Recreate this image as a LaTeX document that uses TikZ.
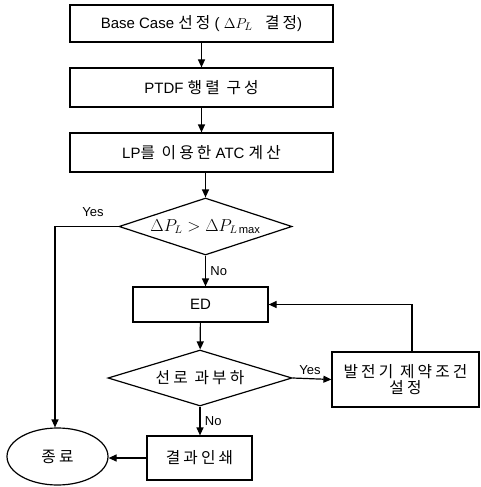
\documentclass[tikz,border=0pt]{standalone}
\usepackage{fontspec}
\setmainfont{Liberation Sans}
\newfontfamily\kr[LetterSpace=20,Scale=1.05]{Noto Sans CJK KR}
\usetikzlibrary{arrows.meta,shapes.geometric}
\begin{document}
\begin{tikzpicture}[x=1pt,y=-1pt,
  line width=1.2pt,
  every node/.style={font=\fontsize{15}{17}\selectfont},
  proc/.style={draw,rectangle,inner sep=0pt},
  arr/.style={-{Triangle[length=8pt,width=7pt]}},
  lbl/.style={font=\fontsize{13}{15}\selectfont}]
\useasboundingbox (0,0) rectangle (481,487);
\node[proc,minimum width=263pt,minimum height=37pt] (b1) at (201.5,23.5) {Base Case\ {\kr 선정} ( $\Delta P_L$ \ \ {\kr 결정})};
\node[proc,minimum width=263pt,minimum height=39pt] (b2) at (201.5,87.5) {PTDF\ {\kr 행렬 구성}};
\node[proc,minimum width=263pt,minimum height=39pt] (b3) at (201.5,152.5) {LP{\kr 를 이용한}\ ATC\ {\kr 계산}};
\node[draw,diamond,aspect=3.0,inner sep=0pt,minimum width=173pt,minimum height=57pt,font=\fontsize{16}{18}\selectfont] (d1) at (205.5,226.5) {$\Delta P_L > \Delta P_{L\max}$};
\node[proc,minimum width=135pt,minimum height=35pt] (ed) at (200.5,304.5) {ED};
\node[draw,diamond,aspect=3.2,inner sep=0pt,minimum width=184pt,minimum height=56pt] (d2) at (200,378) {\kr 선로 과부하};
\node[proc,minimum width=147pt,minimum height=55pt,align=center] (gen) at (405.5,379.5) {\kr 발전기 제약조건\\[-1pt]\kr 설정};
\node[proc,minimum width=105pt,minimum height=44pt] (res) at (199.5,458) {\kr 결과인쇄};
\node[draw,ellipse,inner sep=0pt,minimum width=101pt,minimum height=57pt] (end) at (57.5,456.5) {\kr 종료};
\coordinate (c1) at (55,226.5);
\coordinate (c2) at (412,304.5);
\draw[arr] (b1) -- (b2);
\draw[arr] (b2) -- (b3);
\draw[arr] (b3.south -| d1.north) -- (d1.north);
\draw[arr] (d1.south) -- (d1.south |- ed.north) node[lbl,midway,right=1pt] {No};
\draw[arr] (d1.west) -- (c1) -- (c1 |- end.north);
\node[lbl] at (93,212) {Yes};
\draw[arr] (ed) -- (d2);
\draw[arr] (d2.east) -- (gen.west) node[lbl,midway,above=0pt,xshift=-2pt] {Yes};
\draw[arr] (c2 |- gen.north) -- (c2) -- (ed.east);
\draw[arr] (d2.south) -- (d2.south |- res.north) node[lbl,midway,right=1pt] {No};
\draw[arr] (res.west) -- (res.west -| end.east);
\end{tikzpicture}
\end{document}
